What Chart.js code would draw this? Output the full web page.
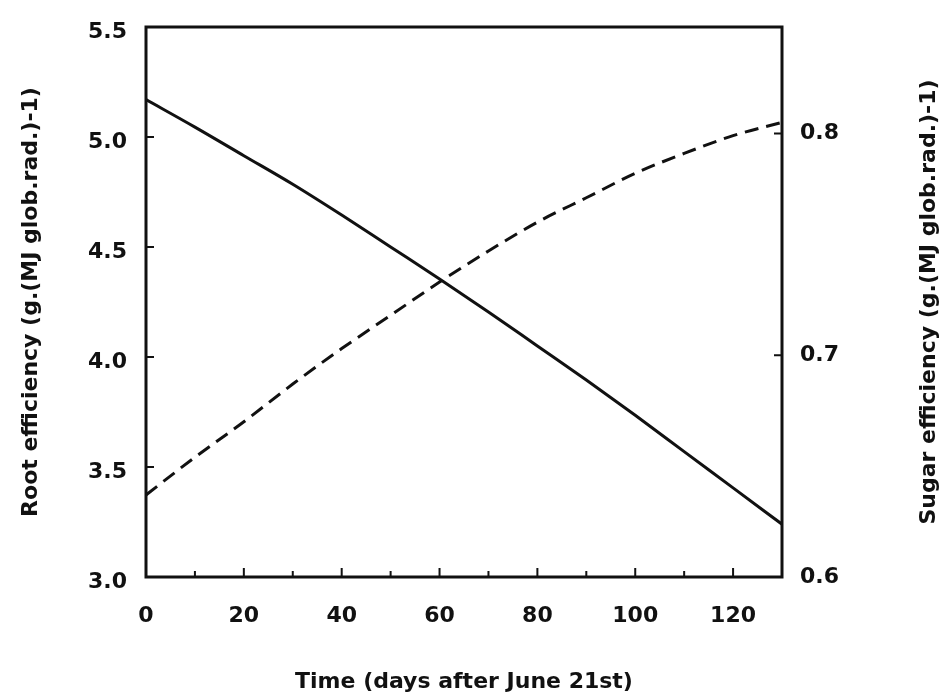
<!DOCTYPE html>
<html>
<head>
<meta charset="utf-8">
<script src="https://cdn.jsdelivr.net/npm/chart.js@4.4.1/dist/chart.umd.min.js"></script>
<style>
  html, body { margin: 0; padding: 0; background: #fff; }
  #wrap { width: 944px; height: 693px; }
</style>
</head>
<body>
<div id="wrap"><canvas id="chart" width="944" height="693"></canvas></div>
<script>
// days after June 21st
const days = [0, 10, 20, 30, 40, 50, 60, 70, 80, 90, 100, 110, 120, 130];
// root efficiency, left axis
const rootEff = [5.17, 5.045, 4.915, 4.785, 4.645, 4.50, 4.355, 4.205, 4.05, 3.895, 3.735, 3.57, 3.405, 3.24];
// sugar efficiency, right axis
const sugarEff = [0.637, 0.654, 0.670, 0.687, 0.703, 0.718, 0.733, 0.747, 0.760, 0.771, 0.782, 0.791, 0.799, 0.805];

const xTicks = [0, 20, 40, 60, 80, 100, 120];
const xMinorTicks = [10, 20, 30, 40, 50, 60, 70, 80, 90, 100, 110, 120];
const leftTicks = [3.0, 3.5, 4.0, 4.5, 5.0, 5.5];
const rightTicks = [0.6, 0.7, 0.8];

const xTitle = 'Time (days after June 21st)';
const leftTitle = 'Root efficiency (g.(MJ glob.rad.)-1)';
const rightTitle = 'Sugar efficiency (g.(MJ glob.rad.)-1)';

const FONT = '"DejaVu Sans", "Liberation Sans", Arial, sans-serif';
const INK = '#111';

Chart.defaults.font.family = FONT;
Chart.defaults.font.weight = 'bold';
Chart.defaults.font.size = 22;
Chart.defaults.color = INK;

// frame, inward ticks and the right-hand title
const framePlugin = {
  id: 'frame',
  afterDatasetsDraw(chart) {
    const { ctx, chartArea: a, scales } = chart;
    ctx.save();
    ctx.strokeStyle = INK;
    ctx.lineWidth = 3;
    ctx.strokeRect(a.left, a.top, a.right - a.left, a.bottom - a.top);

    ctx.lineWidth = 2;
    ctx.beginPath();
    xMinorTicks.forEach(v => {
      const px = scales.x.getPixelForValue(v);
      const len = v % 20 === 0 ? 9 : 6;
      ctx.moveTo(px, a.bottom);
      ctx.lineTo(px, a.bottom - len);
    });
    leftTicks.forEach(v => {
      const py = scales.y.getPixelForValue(v);
      ctx.moveTo(a.left, py);
      ctx.lineTo(a.left + 8, py);
    });
    rightTicks.forEach(v => {
      const py = scales.y1.getPixelForValue(v);
      ctx.moveTo(a.right, py);
      ctx.lineTo(a.right - 8, py);
    });
    ctx.stroke();

    ctx.fillStyle = INK;
    ctx.font = 'bold 22px ' + FONT;
    ctx.textAlign = 'center';
    ctx.textBaseline = 'middle';
    ctx.translate(929, (a.top + a.bottom) / 2);
    ctx.rotate(-Math.PI / 2);
    ctx.fillText(rightTitle, 0, 0);
    ctx.restore();
  }
};

const ctx = document.getElementById('chart').getContext('2d');
new Chart(ctx, {
  type: 'line',
  data: {
    datasets: [{
      label: 'Root efficiency',
      data: days.map((d, i) => ({ x: d, y: rootEff[i] })),
      borderColor: INK,
      borderWidth: 3,
      pointRadius: 0,
      cubicInterpolationMode: 'monotone',
      yAxisID: 'y'
    }, {
      label: 'Sugar efficiency',
      data: days.map((d, i) => ({ x: d, y: sugarEff[i] })),
      borderColor: INK,
      borderWidth: 3,
      borderDash: [14, 8],
      pointRadius: 0,
      cubicInterpolationMode: 'monotone',
      yAxisID: 'y1'
    }]
  },
  options: {
    responsive: false,
    animation: false,
    layout: { padding: { top: 27 } },
    plugins: {
      legend: { display: false },
      tooltip: { enabled: false }
    },
    scales: {
      x: {
        type: 'linear',
        min: 0,
        max: 130,
        afterBuildTicks: s => { s.ticks = xTicks.map(v => ({ value: v })); },
        afterFit: s => { s.height = 116; },
        grid: { display: false, drawTicks: false },
        border: { display: false },
        ticks: { padding: 26, callback: v => String(v) },
        title: {
          display: true,
          text: xTitle,
          font: { size: 22, weight: 'bold', lineHeight: 1 },
          padding: { top: 0, bottom: 0 }
        }
      },
      y: {
        position: 'left',
        min: 3.0,
        max: 5.5,
        afterBuildTicks: s => { s.ticks = leftTicks.map(v => ({ value: v })); },
        afterFit: s => { s.width = 146; s.paddingTop = 0; s.paddingBottom = 0; },
        grid: { display: false, drawTicks: false },
        border: { display: false },
        ticks: { padding: 19, labelOffset: 5, callback: v => Number(v).toFixed(1) },
        title: {
          display: true,
          text: leftTitle,
          font: { size: 22, weight: 'bold' },
          padding: { top: 18, bottom: 0 }
        }
      },
      y1: {
        position: 'right',
        min: 0.6,
        max: 0.848,
        afterBuildTicks: s => { s.ticks = rightTicks.map(v => ({ value: v })); },
        afterFit: s => { s.width = 162; s.paddingTop = 0; s.paddingBottom = 0; },
        grid: { display: false, drawTicks: false },
        border: { display: false },
        ticks: { padding: 18, callback: v => Number(v).toFixed(1) }
      }
    }
  },
  plugins: [framePlugin]
});
</script>
</body>
</html>
